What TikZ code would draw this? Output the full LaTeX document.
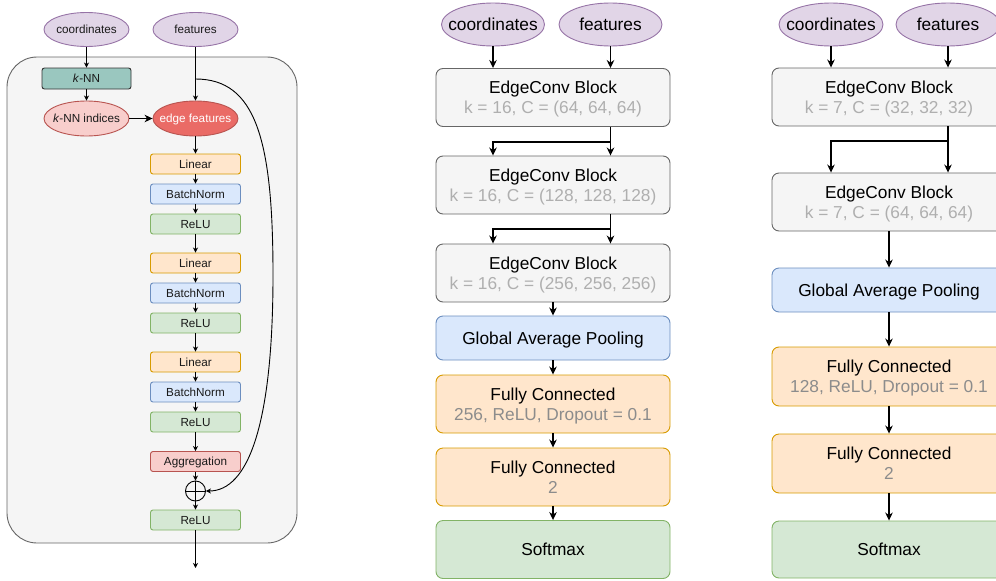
\documentclass[tikz,border=0pt]{standalone}
\usepackage{fontspec}
\setmainfont{Liberation Sans}
\usetikzlibrary{arrows.meta,shapes.geometric}

\definecolor{purpleF}{HTML}{E1D5E7}\definecolor{purpleD}{HTML}{9673A6}
\definecolor{greyF}{HTML}{F5F5F5}\definecolor{greyD}{HTML}{666666}
\definecolor{blueF}{HTML}{DAE8FC}\definecolor{blueD}{HTML}{6C8EBF}
\definecolor{orangeF}{HTML}{FFE6CC}\definecolor{orangeD}{HTML}{D79B00}
\definecolor{greenF}{HTML}{D5E8D4}\definecolor{greenD}{HTML}{82B366}
\definecolor{redF}{HTML}{F8CECC}\definecolor{redD}{HTML}{B85450}
\definecolor{edgeF}{HTML}{EA6B66}
\definecolor{tealF}{HTML}{9AC7BF}\definecolor{tealD}{HTML}{333333}
\definecolor{subA}{HTML}{AFAFAF}
\definecolor{subB}{HTML}{8C8C8C}
\definecolor{ink}{HTML}{1A1A1A}

% zero-width text so an ellipse keeps its given size
\newcommand{\nowide}[1]{\makebox[0pt]{#1}}

\tikzset{
  small/.style={font=\fontsize{11.7}{14}\selectfont, text=ink, text depth=0pt},
  large/.style={font=\fontsize{17.3}{19.6}\selectfont, text=black, text depth=0pt},
  lbox/.style={small, rectangle, rounded corners=2.5pt, draw, line width=0.9pt,
    minimum width=90, minimum height=20, inner sep=0},
  lell/.style={small, ellipse, draw, line width=0.9pt,
    minimum width=85, minimum height=34, inner sep=0},
  bbox/.style={large, rectangle, rounded corners=7pt, draw, line width=0.9pt,
    minimum width=234, minimum height=58, inner sep=0, align=center},
  bell/.style={large, ellipse, draw=purpleD, fill=purpleF, line width=0.9pt,
    minimum width=103, minimum height=43, inner sep=0},
  greyblk/.style={bbox, fill=greyF, draw=greyD},
  blueblk/.style={bbox, fill=blueF, draw=blueD},
  orangeblk/.style={bbox, fill=orangeF, draw=orangeD},
  greenblk/.style={bbox, fill=greenF, draw=greenD},
  arr/.style={-{Stealth[length=8pt,width=7.5pt,inset=2.5pt]}, line width=1.5pt},
  seg/.style={line width=1.5pt},
  larr/.style={-{Stealth[length=5pt,width=5pt,inset=1.5pt]}, line width=0.9pt},
  bigarr/.style={-{Stealth[length=8pt,width=7.5pt,inset=2.5pt]}, line width=0.9pt},
}

\begin{document}
\begin{tikzpicture}[x=1pt,y=-1pt]
\clip (0,0) rectangle (996,581);

% ---------------- EdgeConv block detail ----------------
\node[rectangle, rounded corners=30pt, fill=greyF, draw=greyD, line width=0.9pt,
  minimum width=290, minimum height=486, inner sep=0] (cont) at (152,300) {};

\node[lell, fill=purpleF, draw=purpleD] (lc) at (86.5,29.5) {\nowide{coordinates}};
\node[lell, fill=purpleF, draw=purpleD] (lf) at (195.5,29.5) {\nowide{features}};
\node[lbox, fill=tealF, draw=tealD, minimum width=89, minimum height=21] (knn) at (86.5,78.5) {\textit{k}-NN};
\node[lell, fill=redF, draw=redD, minimum height=35] (kidx) at (86.5,118.5) {\nowide{\textit{k}-NN indices}};
\node[lell, fill=edgeF, draw=redD, minimum height=35, text=white] (ef) at (195.5,118.5) {\nowide{edge features}};

\node[lbox, fill=orangeF, draw=orangeD] (lin1) at (195.5,164) {Linear};
\node[lbox, fill=blueF, draw=blueD] (bn1) at (195.5,194) {BatchNorm};
\node[lbox, fill=greenF, draw=greenD] (re1) at (195.5,224) {ReLU};
\node[lbox, fill=orangeF, draw=orangeD] (lin2) at (195.5,263) {Linear};
\node[lbox, fill=blueF, draw=blueD] (bn2) at (195.5,293) {BatchNorm};
\node[lbox, fill=greenF, draw=greenD] (re2) at (195.5,323) {ReLU};
\node[lbox, fill=orangeF, draw=orangeD] (lin3) at (195.5,362) {Linear};
\node[lbox, fill=blueF, draw=blueD] (bn3) at (195.5,392) {BatchNorm};
\node[lbox, fill=greenF, draw=greenD] (re3) at (195.5,422) {ReLU};
\node[lbox, fill=redF, draw=redD] (agg) at (195.5,461.5) {Aggregation};
\node[circle, draw, line width=0.9pt, minimum size=20, inner sep=0,
  path picture={\draw[line width=0.9pt]
    (path picture bounding box.north) -- (path picture bounding box.south)
    (path picture bounding box.west) -- (path picture bounding box.east);}]
  (plus) at (195.5,491) {};
\node[lbox, fill=greenF, draw=greenD] (re4) at (195.5,520) {ReLU};
\coordinate (lout) at (195.5,568);
\coordinate (split) at (195.5,79);

\draw[larr] (lc) -- (knn);
\draw[larr] (knn) -- (kidx);
\draw[bigarr] (kidx) -- (ef);
\draw[larr] (lf) -- (ef);
\draw[larr] (ef) -- (lin1);
\draw[larr] (lin1) -- (bn1);
\draw[larr] (bn1) -- (re1);
\draw[larr] (re1) -- (lin2);
\draw[larr] (lin2) -- (bn2);
\draw[larr] (bn2) -- (re2);
\draw[larr] (re2) -- (lin3);
\draw[larr] (lin3) -- (bn3);
\draw[larr] (bn3) -- (re3);
\draw[larr] (re3) -- (agg);
\draw[larr] (agg) -- (plus);
\draw[larr] (plus) -- (re4);
\draw[larr] (re4) -- (lout);
% skip connection around the MLP
\draw[larr] (split) .. controls (256,79) and (273,140) .. (273,275)
  .. controls (273,425) and (248,491) .. (plus.east);

% ---------------- network with three EdgeConv blocks ----------------
\node[bell] (mc) at (493,24.5) {\nowide{coordinates}};
\node[bell] (mf) at (610.5,24.5) {\nowide{features}};
\node[greyblk] (mb1) at (553,97.5) {EdgeConv Block\\\textcolor{subA}{k = 16, C = (64, 64, 64)}};
\node[greyblk] (mb2) at (553,185) {EdgeConv Block\\\textcolor{subA}{k = 16, C = (128, 128, 128)}};
\node[greyblk] (mb3) at (553,273) {EdgeConv Block\\\textcolor{subA}{k = 16, C = (256, 256, 256)}};
\node[blueblk, minimum height=44] (mgap) at (553,338) {Global Average Pooling};
\node[orangeblk] (mfc1) at (553,404) {Fully Connected\\\textcolor{subB}{256, ReLU, Dropout = 0.1}};
\node[orangeblk] (mfc2) at (553,477) {Fully Connected\\\textcolor{subB}{2}};
\node[greenblk] (msm) at (553,549.5) {Softmax};
\coordinate (mj1) at (610.5,142);
\coordinate (mj2) at (610.5,229);

\draw[arr] (mc) -- (mb1.north -| mc);
\draw[arr] (mf) -- (mb1.north -| mf);
\draw[seg] (mb1.south -| mj1) -- (mj1);
\draw[arr] (mj1) -| (mb2.north -| mc);
\draw[arr] (mj1) -- (mb2.north -| mj1);
\draw[seg] (mb2.south -| mj2) -- (mj2);
\draw[arr] (mj2) -| (mb3.north -| mc);
\draw[arr] (mj2) -- (mb3.north -| mj2);
\draw[arr] (mb3) -- (mgap);
\draw[arr] (mgap) -- (mfc1);
\draw[arr] (mfc1) -- (mfc2);
\draw[arr] (mfc2) -- (msm);

% ---------------- network with two EdgeConv blocks ----------------
\node[bell, minimum width=104] (rc) at (831,24.5) {\nowide{coordinates}};
\node[bell, minimum width=104] (rf) at (948,24.5) {\nowide{features}};
\node[greyblk] (rb1) at (889,97) {EdgeConv Block\\\textcolor{subA}{k = 7, C = (32, 32, 32)}};
\node[greyblk] (rb2) at (889,202) {EdgeConv Block\\\textcolor{subA}{k = 7, C = (64, 64, 64)}};
\node[blueblk, minimum height=44] (rgap) at (889,290) {Global Average Pooling};
\node[orangeblk, minimum height=59] (rfc1) at (889,376.5) {Fully Connected\\\textcolor{subB}{128, ReLU, Dropout = 0.1}};
\node[orangeblk, minimum height=59] (rfc2) at (889,463.5) {Fully Connected\\\textcolor{subB}{2}};
\node[greenblk, minimum height=57] (rsm) at (889,549.5) {Softmax};
\coordinate (rj1) at (948,141);

\draw[arr] (rc) -- (rb1.north -| rc);
\draw[arr] (rf) -- (rb1.north -| rf);
\draw[seg] (rb1.south -| rj1) -- (rj1);
\draw[arr] (rj1) -| (rb2.north -| rc);
\draw[arr] (rj1) -- (rb2.north -| rj1);
\draw[arr] (rb2) -- (rgap);
\draw[arr] (rgap) -- (rfc1);
\draw[arr] (rfc1) -- (rfc2);
\draw[arr] (rfc2) -- (rsm);
\end{tikzpicture}
\end{document}
